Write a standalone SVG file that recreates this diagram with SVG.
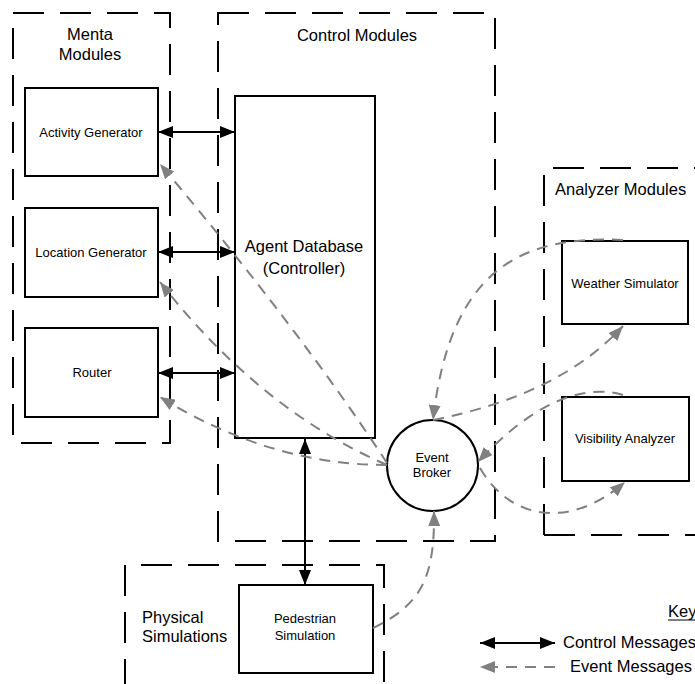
<svg xmlns="http://www.w3.org/2000/svg" width="695" height="684" viewBox="0 0 695 684">
<style>
.bg{fill:#fff}
.group{fill:none;stroke:#000;stroke-width:2;stroke-dasharray:31 16}
.box{fill:#fff;stroke:#000;stroke-width:2}
.ctl{fill:none;stroke:#000;stroke-width:2}
.evt{fill:none;stroke:#808080;stroke-width:2;stroke-dasharray:11 8}
text{font-family:"Liberation Sans",Arial,sans-serif;fill:#000}
.t16{font-size:16.5px}
.t13{font-size:13px}
.c{text-anchor:middle}
</style>
<defs>
<marker id="ab" viewBox="0 0 15 12" refX="15" refY="6" markerWidth="15" markerHeight="12" markerUnits="userSpaceOnUse" orient="auto-start-reverse">
<path d="M0,0 L15,6 L0,12 z" fill="#000"/>
</marker>
<marker id="ag" viewBox="0 0 15 12" refX="15" refY="6" markerWidth="15" markerHeight="12" markerUnits="userSpaceOnUse" orient="auto-start-reverse">
<path d="M0,0 L15,6 L0,12 z" fill="#808080"/>
</marker>
</defs>
<rect class="bg" x="0" y="0" width="695" height="684"/>

<g id="menta-modules">
<rect class="group" x="13" y="13" width="157" height="430"/>
<text class="t16 c" x="90" y="40">Menta</text>
<text class="t16 c" x="90" y="60">Modules</text>
</g>
<g id="control-modules">
<rect class="group" x="218" y="13" width="277" height="528"/>
<text class="t16 c" x="357" y="41">Control Modules</text>
</g>
<g id="analyzer-modules">
<path class="group" d="M544,535 L544,168 L700,168 M544,535 L700,535"/>
<text class="t16" x="555" y="195">Analyzer Modules</text>
</g>
<g id="physical-simulations">
<path class="group" d="M125,690 L125,565 L384,565 L384,690"/>
<text class="t16" x="142" y="623">Physical</text>
<text class="t16" x="142" y="642">Simulations</text>
</g>

<g id="activity-generator">
<rect class="box" x="25" y="88" width="133" height="88"/>
<text class="t13 c" x="91" y="137">Activity Generator</text>
</g>
<g id="location-generator">
<rect class="box" x="25" y="208" width="133" height="89"/>
<text class="t13 c" x="91" y="257">Location Generator</text>
</g>
<g id="router">
<rect class="box" x="25" y="328" width="133" height="89"/>
<text class="t13 c" x="92" y="377">Router</text>
</g>
<g id="agent-database">
<rect class="box" x="235" y="96" width="140" height="342"/>
<text class="t16 c" x="304" y="252">Agent Database</text>
<text class="t16 c" x="304" y="274">(Controller)</text>
</g>
<g id="weather-simulator">
<rect class="box" x="562" y="241" width="126" height="83"/>
<text class="t13 c" x="625" y="288">Weather Simulator</text>
</g>
<g id="visibility-analyzer">
<rect class="box" x="562" y="397" width="127" height="84"/>
<text class="t13 c" x="625" y="443">Visibility Analyzer</text>
</g>
<g id="event-broker">
<circle class="box" cx="432.5" cy="465.5" r="45.5"/>
<text class="t13 c" x="432" y="462">Event</text>
<text class="t13 c" x="432" y="477">Broker</text>
</g>
<g id="pedestrian-simulation">
<rect class="box" x="239" y="585" width="134" height="88"/>
<text class="t13 c" x="305" y="623">Pedestrian</text>
<text class="t13 c" x="305" y="640">Simulation</text>
</g>

<g id="connectors">
<line class="ctl" x1="158" y1="132" x2="235" y2="132" marker-start="url(#ab)" marker-end="url(#ab)"/>
<line class="ctl" x1="158" y1="252" x2="235" y2="252" marker-start="url(#ab)" marker-end="url(#ab)"/>
<line class="ctl" x1="158" y1="373" x2="235" y2="373" marker-start="url(#ab)" marker-end="url(#ab)"/>
<line class="ctl" x1="305" y1="439" x2="305" y2="585" marker-start="url(#ab)" marker-end="url(#ab)"/>

<path class="evt" d="M387,463 Q300,330 160,164" marker-end="url(#ag)"/>
<path class="evt" d="M387,465 Q260,410 160,282" marker-end="url(#ag)"/>
<path class="evt" d="M387,465 Q270,465 160,397" marker-end="url(#ag)"/>
<path class="evt" d="M623,240 C520,235 450,270 433,420" marker-end="url(#ag)"/>
<path class="evt" d="M433,420 Q560,395 623,326" marker-end="url(#ag)"/>
<path class="evt" d="M623,395 C590,385 540,395 478,462" marker-end="url(#ag)"/>
<path class="evt" d="M480,468 C510,520 570,530 625,482" marker-end="url(#ag)"/>
<path class="evt" d="M373,628 C420,605 435,580 434,511" marker-end="url(#ag)"/>
</g>

<g id="key">
<text class="t16" x="668" y="617">Key</text>
<line x1="668" y1="620" x2="695" y2="620" stroke="#000" stroke-width="1"/>
<line class="ctl" x1="480" y1="643" x2="555" y2="643" marker-start="url(#ab)" marker-end="url(#ab)"/>
<text class="t16" x="563" y="648">Control Messages</text>
<path class="evt" d="M555,667 L480,667" marker-end="url(#ag)"/>
<text class="t16" x="570" y="672">Event Messages</text>
</g>
</svg>
